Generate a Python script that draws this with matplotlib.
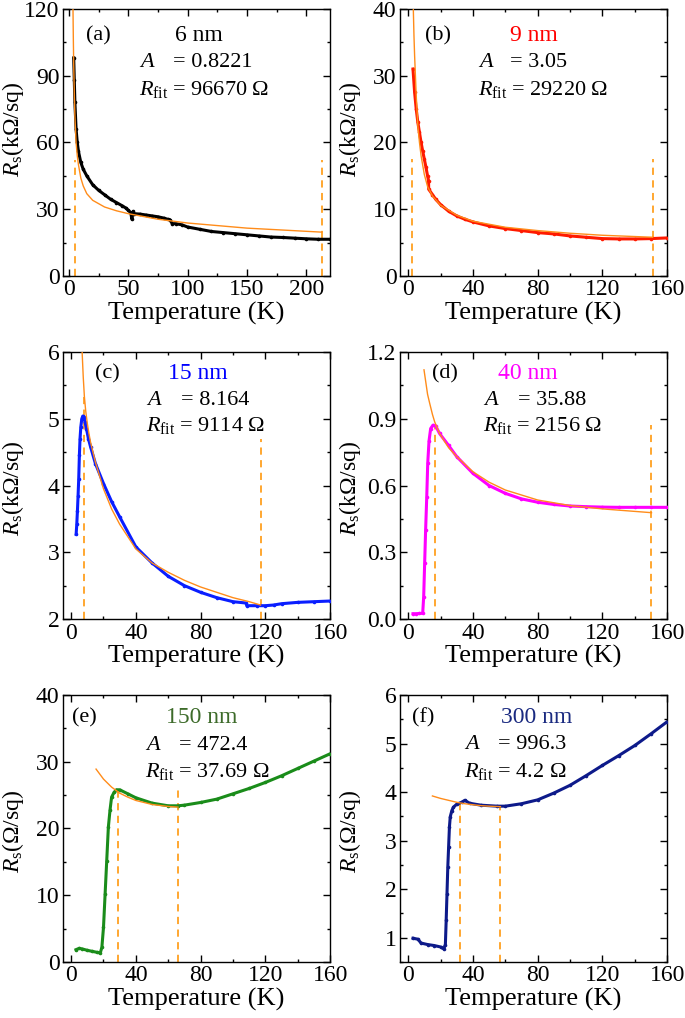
import matplotlib
matplotlib.use('Agg')
import matplotlib.pyplot as plt
from matplotlib.ticker import MultipleLocator, FormatStrFormatter

plt.rcParams['font.family'] = ['Liberation Serif', 'DejaVu Serif']
plt.rcParams['mathtext.fontset'] = 'custom'
plt.rcParams['mathtext.rm'] = 'Liberation Serif'
plt.rcParams['mathtext.it'] = 'Liberation Serif:italic'

# (a) 6 nm
T_a = [4, 4.5, 5, 6, 7, 8, 10, 12, 15, 20, 25, 30, 35, 40, 45, 48, 50, 52, 53, 54, 55, 60, 65, 70,
       75, 80, 83, 85, 87, 90, 95, 100, 110, 120, 130, 140, 150, 160, 170, 180, 190, 200, 210, 220]
R_a = [98, 88, 78, 66, 60, 56, 51, 48, 45, 41, 38.5, 36.5, 34.5, 33, 31.5, 30.5, 29.5, 28.5, 25.5, 29,
       28, 27.8, 27.4, 27, 26.6, 26, 25.5, 25.3, 23.5, 23.5, 23, 22, 21, 20, 19.5, 19, 18.5, 18,
       17.5, 17.3, 17, 16.7, 16.5, 16.5]
fitT_a = [3.4, 3.7, 4, 4.5, 5, 6, 7, 8, 10, 12, 15, 20, 30, 40, 50, 75, 100, 150, 213]
fitR_a = [120, 106, 95, 82, 72, 60, 54, 50, 44, 40.5, 37, 34, 31, 29.3, 28, 25.5, 23.8, 21.5, 19.7]
dashT_a = [5, 213]
dashTop_a = [52, 52]

# (b) 9 nm
T_b = [3, 4, 5, 6, 7, 8, 9, 10, 11, 12, 12.6, 12.7, 15, 17, 20, 25, 30, 35, 40, 50, 60, 70, 80,
       90, 100, 110, 120, 130, 140, 150, 160]
R_b = [31, 27.5, 25, 23, 21.5, 20, 18.7, 17.5, 16.3, 15, 14.3, 13, 12.2, 11.5, 10.7, 9.7, 9, 8.5,
       8.1, 7.5, 7.1, 6.8, 6.5, 6.3, 6.0, 5.8, 5.6, 5.55, 5.55, 5.6, 5.7]
fitT_b = [3.2, 3.6, 4, 5, 6, 7, 8, 10, 12, 15, 20, 30, 40, 60, 80, 100, 120, 151]
fitR_b = [40, 36, 33, 27, 22.5, 20, 18, 15.2, 13.4, 12, 10.6, 9.1, 8.2, 7.3, 6.8, 6.4, 6.1, 5.8]
dashT_b = [2.5, 151]
dashTop_b = [17.5, 17.5]

# (c) 15 nm
T_c = [3.1, 3.5, 3.9, 4.3, 4.7, 5.1, 5.5, 6, 6.6, 7.2, 7.8, 8.6, 9.5, 10.7, 12, 15, 20, 25, 30, 40,
       50, 60, 70, 80, 90, 100, 108, 108.5, 115, 120, 125, 130, 140, 150, 160]
R_c = [3.27, 3.42, 3.62, 3.85, 4.1, 4.45, 4.7, 4.88, 5.0, 5.04, 5.03, 4.95, 4.85, 4.7, 4.58, 4.33,
       4.03, 3.76, 3.53, 3.08, 2.84, 2.64, 2.5, 2.4, 2.32, 2.26, 2.24, 2.2, 2.2, 2.2, 2.21, 2.23,
       2.25, 2.26, 2.27]
fitT_c = [6.8, 7.5, 8.2, 9, 10, 11, 12, 15, 20, 25, 30, 40, 50, 60, 70, 80, 90, 100, 110, 117]
fitR_c = [6.0, 5.62, 5.33, 5.12, 4.93, 4.78, 4.65, 4.35, 3.95, 3.65, 3.42, 3.05, 2.84, 2.7, 2.58,
          2.48, 2.4, 2.32, 2.26, 2.21]
dashT_c = [7.8, 117.3]
dashTop_c = [5.33, 4.7]

# (d) 40 nm
T_d = [3, 5, 7, 9, 9.6, 10.2, 10.8, 11.5, 12.1, 12.9, 13.9, 15.3, 17, 19.4, 25, 30, 40, 50, 60, 70,
       80, 90, 100, 110, 120, 130, 140, 150, 160]
R_d = [0.024, 0.024, 0.025, 0.026, 0.10, 0.25, 0.40, 0.55, 0.70, 0.80, 0.856, 0.871, 0.868, 0.834,
       0.78, 0.73, 0.655, 0.60, 0.565, 0.54, 0.525, 0.515, 0.508, 0.505, 0.503, 0.502, 0.502,
       0.502, 0.502]
fitT_d = [9.8, 11, 12, 13.3, 15, 16.4, 19.4, 25, 30, 40, 50, 60, 80, 100, 120, 150.3]
fitR_d = [1.12, 1.06, 1.01, 0.97, 0.92, 0.886, 0.834, 0.77, 0.73, 0.662, 0.615, 0.58, 0.535, 0.51,
          0.495, 0.478]
dashT_d = [16.4, 150.3]
dashTop_d = [0.864, 0.871]

# (e) 150 nm
T_e = [3, 5, 7, 10, 13, 16, 18, 19, 20, 21, 22, 23, 24, 25, 26.5, 28, 30, 35, 40, 50, 60, 66, 70,
       80, 90, 100, 110, 120, 130, 140, 150, 160]
R_e = [1.85, 2.05, 1.95, 1.75, 1.6, 1.45, 1.35, 2.2, 5.2, 10.2, 15.2, 20.2, 22.7, 24.7, 25.4, 25.8,
       25.8, 25.2, 24.6, 23.8, 23.4, 23.4, 23.5, 23.9, 24.4, 25.2, 26.0, 26.9, 27.9, 29.0, 30.1, 31.2]
fitT_e = [15.4, 20, 25, 30, 35, 40, 50, 60, 66]
fitR_e = [28.9, 27.4, 26.2, 25.3, 24.7, 24.2, 23.6, 23.3, 23.2]
dashT_e = [28.7, 65.8]
dashTop_e = [25.8, 25.9]

# (f) 300 nm
T_f = [3, 6, 8, 12, 16, 20, 22, 23, 23.5, 24, 24.5, 25, 25.5, 26, 27, 28, 30, 33, 35, 38, 45, 55,
       60, 70, 80, 90, 100, 110, 120, 130, 140, 150, 160]
R_f = [0.99, 0.97, 0.89, 0.86, 0.84, 0.81, 0.77, 0.86, 1.36, 1.91, 2.46, 2.87, 3.28, 3.49, 3.62,
       3.69, 3.75, 3.79, 3.83, 3.77, 3.73, 3.71, 3.71, 3.76, 3.84, 3.98, 4.14, 4.34, 4.55, 4.75,
       4.96, 5.2, 5.45]
fitT_f = [15, 20, 25, 30, 35, 40, 45, 50, 57]
fitR_f = [3.92, 3.87, 3.83, 3.79, 3.76, 3.74, 3.72, 3.71, 3.70]
dashT_f = [31.9, 57]
dashTop_f = [3.79, 3.70]

panels = [
    dict(tag='(a)', name='6 nm', A='0.8221', Rfit='96670', c='black', tc='black',
         T=T_a, R=R_a, fT=fitT_a, fR=fitR_a, dT=dashT_a, dTop=dashTop_a,
         xlim=(-5, 220), xmaj=50, xmin=25, ylim=(0, 120), ymaj=30, ymin=15, yfmt='%d',
         unit='k', tagx=0.085, namex=0.51, Ax=0.285, eqx=0.412, ys=(0.90, 0.80, 0.70)),
    dict(tag='(b)', name='9 nm', A='3.05', Rfit='29220', c='#ff1a00', tc='#ff0000',
         T=T_b, R=R_b, fT=fitT_b, fR=fitR_b, dT=dashT_b, dTop=dashTop_b,
         xlim=(-5, 160), xmaj=40, xmin=20, ylim=(0, 40), ymaj=10, ymin=5, yfmt='%d',
         unit='k', tagx=0.095, namex=0.50, Ax=0.29, eqx=0.412, ys=(0.90, 0.80, 0.70)),
    dict(tag='(c)', name='15 nm', A='8.164', Rfit='9114', c='#0a1eff', tc='#0000ff',
         T=T_c, R=R_c, fT=fitT_c, fR=fitR_c, dT=dashT_c, dTop=dashTop_c,
         xlim=(-5, 160), xmaj=40, xmin=20, ylim=(2, 6), ymaj=1, ymin=0.5, yfmt='%d',
         unit='k', tagx=0.12, namex=0.505, Ax=0.31, eqx=0.44, ys=(0.92, 0.82, 0.725)),
    dict(tag='(d)', name='40 nm', A='35.88', Rfit='2156', c='#ff00ff', tc='#ff00ff',
         T=T_d, R=R_d, fT=fitT_d, fR=fitR_d, dT=dashT_d, dTop=dashTop_d,
         xlim=(-5, 160), xmaj=40, xmin=20, ylim=(0, 1.2), ymaj=0.3, ymin=0.15, yfmt='%.1f',
         unit='k', tagx=0.12, namex=0.48, Ax=0.31, eqx=0.44, ys=(0.92, 0.82, 0.725)),
    dict(tag='(e)', name='150 nm', A='472.4', Rfit='37.69', c='#1a8c1a', tc='#3d6b2a',
         T=T_e, R=R_e, fT=fitT_e, fR=fitR_e, dT=dashT_e, dTop=dashTop_e,
         xlim=(-5, 160), xmaj=40, xmin=20, ylim=(0, 40), ymaj=10, ymin=5, yfmt='%d',
         unit='', tagx=0.035, namex=0.52, Ax=0.305, eqx=0.435, ys=(0.915, 0.81, 0.715)),
    dict(tag='(f)', name='300 nm', A='996.3', Rfit='4.2', c='#0d1a8a', tc='#1a2a80',
         T=T_f, R=R_f, fT=fitT_f, fR=fitR_f, dT=dashT_f, dTop=dashTop_f,
         xlim=(-5, 160), xmaj=40, xmin=20, ylim=(0.5, 6), ymaj=1, ymin=0.5, yfmt='%d',
         unit='', tagx=0.045, namex=0.51, Ax=0.24, eqx=0.365, ys=(0.915, 0.815, 0.715)),
]

fig = plt.figure(figsize=(6.85, 10.18), dpi=100)
lefts = [0.092, 0.584]
bottoms = [0.7289, 0.3919, 0.0550]
label_y = [0.55, 0.49, 0.49]
w, h = 0.390, 0.2623

for i, p in enumerate(panels):
    ax = fig.add_axes([lefts[i % 2], bottoms[i // 2], w, h])
    ax.plot(p['T'], p['R'], '-', color=p['c'], lw=2.2, marker='o', ms=2.6, mew=0, zorder=3)
    ax.plot(p['fT'], p['fR'], '-', color='#ff8c1a', lw=1.0, zorder=4)
    ax.vlines(p['dT'], p['ylim'][0], p['dTop'], colors='#ffa020', linestyles=(0, (4, 3)),
              lw=1.3, zorder=2)
    ax.set_xlim(*p['xlim'])
    ax.set_ylim(*p['ylim'])
    ax.xaxis.set_major_locator(MultipleLocator(p['xmaj']))
    ax.xaxis.set_minor_locator(MultipleLocator(p['xmin']))
    ax.yaxis.set_major_locator(MultipleLocator(p['ymaj']))
    ax.yaxis.set_minor_locator(MultipleLocator(p['ymin']))
    ax.yaxis.set_major_formatter(FormatStrFormatter(p['yfmt']))
    ax.tick_params(which='both', direction='in', top=True, right=True, labelsize=17, width=1)
    ax.tick_params(which='major', length=5, pad=2.5)
    ax.tick_params(which='minor', length=2.5)
    for s in ax.spines.values():
        s.set_linewidth(1.0)
    ax.set_xlabel('Temperature (K)', fontsize=19, labelpad=1)
    ax.set_ylabel(r'$R_{\rm s}$(' + p['unit'] + 'Ω/sq)', fontsize=17)
    ax.yaxis.set_label_coords(-0.138, label_y[i // 2])
    ys = p['ys']
    ax.text(p['tagx'], ys[0], p['tag'], transform=ax.transAxes, fontsize=16, va='center')
    ax.text(p['namex'], ys[0], p['name'], transform=ax.transAxes, fontsize=17, va='center',
            ha='center', color=p['tc'])
    ax.text(p['Ax'], ys[1], '$A$', transform=ax.transAxes, fontsize=16, va='center')
    ax.text(p['eqx'], ys[1], '= ' + p['A'], transform=ax.transAxes, fontsize=16, va='center')
    ax.text(p['Ax'], ys[2], r'$R_{\rm fit}$ = ' + p['Rfit'] + ' Ω', transform=ax.transAxes,
            fontsize=16, va='center')

fig.savefig('out.png', dpi=100)
